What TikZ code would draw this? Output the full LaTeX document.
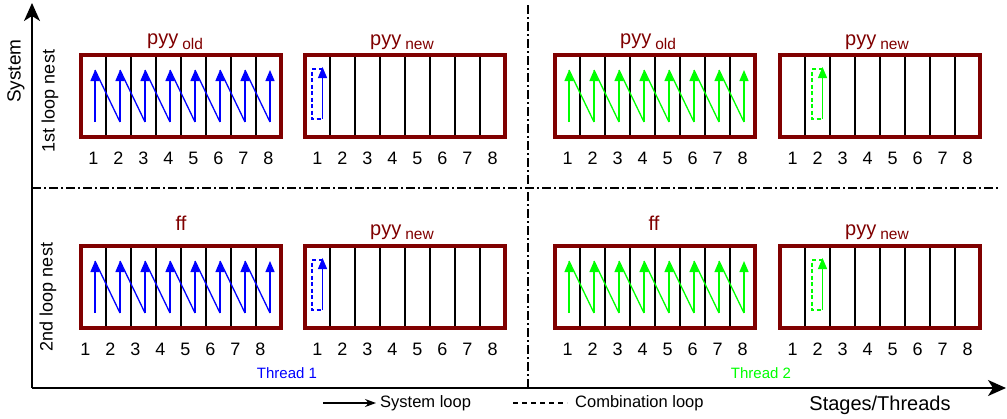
\documentclass[tikz,border=0pt]{standalone}
\usepackage{fontspec}
\setmainfont{Liberation Sans}
\usetikzlibrary{arrows.meta}
\definecolor{dred}{HTML}{800000}
\definecolor{tblue}{HTML}{0000FF}
\definecolor{tgreen}{HTML}{00FF00}
\newcommand\fsz[1]{\fontsize{#1}{#1}\selectfont}
\newcommand\drawpanel[4]{%
  \foreach \k in {1,...,7} {\draw[cellline] ({#1+25*\k},#2) -- ({#1+25*\k},{#2+82});}
  \draw[boxline] (#1,#2) rectangle ({#1+200},{#2+82});
  \foreach \k in {1,...,8} {\node[numlbl] (#3n\k) at ({#1+25*\k-12.5+#4},{#2+103}) {\k};}
}
\newcommand\zigzag[3]{%
  \foreach \i in {0,...,6} {\draw[zzline,#3] ({#1+25*\i+14},{#2+15}) -- ({#1+25*\i+39},{#2+67});}
  \foreach \i in {0,...,7} {\draw[uparr,#3] ({#1+25*\i+14},{#2+67}) -- ({#1+25*\i+14},{#2+15});}
}
\newcommand\comb[4]{%
  \draw[dshline,#4] ({#1+25*#3-7.5},{#2+14}) -- ({#1+25*#3-18},{#2+14}) -- ({#1+25*#3-18},{#2+64}) -- ({#1+25*#3-7.5},{#2+64});
  \draw[uparr,#4] ({#1+25*#3-7.5},{#2+64}) -- ({#1+25*#3-7.5},{#2+12});
}
\begin{document}
\begin{tikzpicture}[x=1pt,y=-1pt,
  cellline/.style={draw=black,line width=1.4pt},
  boxline/.style={draw=dred,line width=4pt},
  numlbl/.style={font=\fsz{18},text=black,inner sep=0pt},
  zzline/.style={line width=1.3pt},
  uparr/.style={line width=1.3pt,-{Triangle[length=11pt,width=9pt]}},
  dshline/.style={line width=1.3pt,dash pattern=on 4pt off 2.5pt},
  ttl/.style={anchor=base west,inner sep=0pt,text=dred},
  axisline/.style={line width=1.8pt,-{Stealth[length=18pt,width=16pt,inset=5pt]}},
  dashdot/.style={line width=1.3pt,dash pattern=on 9pt off 3pt on 2pt off 3pt},
  sidelbl/.style={rotate=90,inner sep=0pt}]
\useasboundingbox[fill=white] (0,0) rectangle (1007,418);
% separators
\coordinate (hl) at (32,188); \coordinate (hr) at (1000,188);
\coordinate (vt) at (528,5); \coordinate (vb) at (528,388);
\draw[dashdot] (hl) -- (hr);
\draw[dashdot] (vt) -- (vb);
% axes
\coordinate (o) at (32,388); \coordinate (ytop) at (32,3); \coordinate (xend) at (1006,388);
\draw[axisline] (o) -- (ytop);
\draw[axisline] (o) -- (xend);
% panels
\drawpanel{81}{55}{A}{0}
\drawpanel{305}{55}{B}{0}
\drawpanel{555}{55}{C}{0}
\drawpanel{780}{55}{D}{0}
\drawpanel{81}{246}{E}{-8}
\drawpanel{305}{246}{F}{0}
\drawpanel{555}{246}{G}{0}
\drawpanel{780}{246}{H}{0}
\zigzag{81}{55}{tblue}
\zigzag{555}{55}{tgreen}
\zigzag{81}{246}{tblue}
\zigzag{555}{246}{tgreen}
\comb{305}{55}{1}{tblue}
\comb{780}{55}{2}{tgreen}
\comb{305}{246}{1}{tblue}
\comb{780}{246}{2}{tgreen}
% titles
\node[ttl] (t1) at (147,44) {\fsz{20}pyy\hspace{4pt}\raisebox{-5pt}{\fsz{15.5}old}};
\node[ttl] (t2) at (370,45) {\fsz{20}pyy\hspace{4pt}\raisebox{-4pt}{\fsz{15.5}new}};
\node[ttl] (t3) at (620,44) {\fsz{20}pyy\hspace{4pt}\raisebox{-5pt}{\fsz{15.5}old}};
\node[ttl] (t4) at (845,45) {\fsz{20}pyy\hspace{4pt}\raisebox{-4pt}{\fsz{15.5}new}};
\node[anchor=base,inner sep=0pt,text=dred] (t5) at (181,230) {\fsz{20}ff};
\node[anchor=base,inner sep=0pt,text=dred] (t7) at (654,230) {\fsz{20}ff};
\node[ttl] (t6) at (370,235) {\fsz{20}pyy\hspace{4pt}\raisebox{-4pt}{\fsz{15.5}new}};
\node[ttl] (t8) at (845,235) {\fsz{20}pyy\hspace{4pt}\raisebox{-4pt}{\fsz{15.5}new}};
% side labels
\node[sidelbl] (sys) at (16,71) {\fsz{19}System};
\node[sidelbl] (l1) at (50,101) {\fsz{18}1st loop nest};
\node[sidelbl] (l2) at (48,297) {\fsz{18}2nd loop nest};
% thread labels
\node[text=tblue,inner sep=0pt] (th1) at (287,373) {\fsz{15}Thread 1};
\node[text=tgreen,inner sep=0pt] (th2) at (761,373) {\fsz{15}Thread 2};
\node[inner sep=0pt] (st) at (880,405) {\fsz{20}Stages/Threads};
% legend
\coordinate (la1) at (323,403); \coordinate (la2) at (376,403);
\draw[line width=1.2pt,-{Stealth[length=11pt,width=8pt]}] (la1) -- (la2);
\node[anchor=west,inner sep=0pt] (lg1) at (380,403) {\fsz{16.5}System loop};
\coordinate (lb1) at (513,403); \coordinate (lb2) at (567,403);
\draw[line width=1.2pt,dash pattern=on 5pt off 4pt] (lb1) -- (lb2);
\node[anchor=west,inner sep=0pt] (lg2) at (575,403) {\fsz{16.5}Combination loop};
\end{tikzpicture}
\end{document}
